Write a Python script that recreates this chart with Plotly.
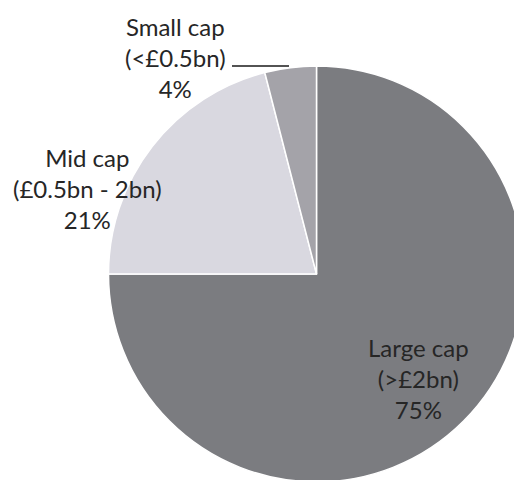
import plotly.graph_objects as go

# Data
categories = ["Large cap", "Mid cap", "Small cap"]
ranges = ["(>£2bn)", "(£0.5bn - 2bn)", "(<£0.5bn)"]
shares = [75, 21, 4]
colors = ["#7b7c80", "#d9d8e0", "#a4a3a9"]

W, H = 530, 490
cx, cy, r = 316.5, 274, 208

fig = go.Figure(go.Pie(
    labels=categories,
    values=shares,
    sort=False,
    direction="clockwise",
    rotation=0,
    textinfo="none",
    marker=dict(colors=colors, line=dict(color="white", width=1.5)),
    domain=dict(x=[(cx - r) / W, (cx + r) / W], y=[(H - cy - r) / H, (H - cy + r) / H]),
    showlegend=False,
))

label_pos = {"Large cap": (418, 378), "Mid cap": (87, 189), "Small cap": (175, 57.5)}
for cat, rng, val in zip(categories, ranges, shares):
    px, py = label_pos[cat]
    fig.add_annotation(
        x=px / W, y=1 - py / H, xref="paper", yref="paper",
        text=f"{cat}<br>{rng}<br>{val}%", showarrow=False,
        xanchor="center", yanchor="middle", align="center",
        font=dict(family="Lato", size=24, color="#262626"),
    )

# leader line for Small cap
fig.add_shape(type="line", xref="paper", yref="paper",
              x0=232 / W, x1=289 / W, y0=1 - 66 / H, y1=1 - 66 / H,
              line=dict(color="#1a1a1a", width=1.5))

fig.update_layout(width=W, height=H, margin=dict(l=0, r=0, t=0, b=0),
                  paper_bgcolor="white", plot_bgcolor="white")

fig.write_html("out.html", post_script="document.documentElement.style.overflow='hidden';document.body.style.overflow='hidden';document.body.style.margin='0';")
